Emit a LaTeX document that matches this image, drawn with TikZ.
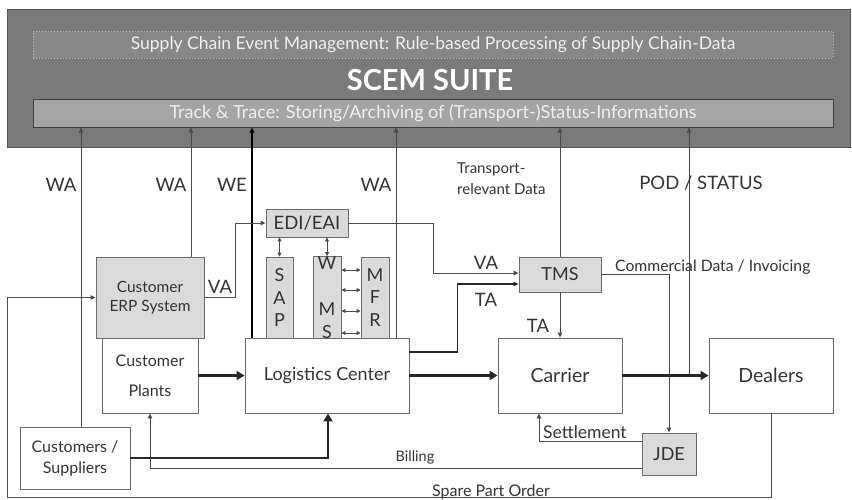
\documentclass[tikz,border=0pt]{standalone}
\usepackage{fontspec}
\setmainfont{Lato}
\usetikzlibrary{arrows.meta}
\definecolor{panelgray}{HTML}{7A7A7A}
\definecolor{panelline}{HTML}{555555}
\definecolor{trackfill}{HTML}{A4A4A4}
\definecolor{lightfill}{HTML}{DADADA}
\definecolor{boxline}{HTML}{6A6A6A}
\definecolor{linegray}{HTML}{4A4A4A}
\definecolor{txt}{HTML}{333333}
\definecolor{toptxt}{HTML}{F0F0F0}
\tikzset{
  box/.style={draw=boxline,line width=0.9pt,fill=white,text=txt,inner sep=0pt,align=center,font=\fontsize{18}{21}\selectfont},
  lbox/.style={box,fill=lightfill},
  sig/.style={draw=linegray,line width=0.9pt,-{Triangle[length=5pt,width=4.5pt]}},
  dsig/.style={draw=linegray,line width=0.9pt,{Triangle[length=4pt,width=4pt]}-{Triangle[length=4pt,width=4pt]}},
  flow/.style={draw=black!85,line width=2.6pt,-{Triangle[length=8pt,width=9pt]}},
  lab/.style={text=txt,inner sep=0pt,font=\fontsize{18.5}{21}\selectfont}
}
\begin{document}
\begin{tikzpicture}[x=1pt,y=-1pt]
\useasboundingbox (0,0) rectangle (852,499);
\filldraw[fill=panelgray,draw=panelline,line width=1pt] (7,9) rectangle (850,147);
\node[draw=black!25,dotted,line width=1pt,fill=panelgray!90!white,text=toptxt,minimum width=800,minimum height=27,inner sep=0pt,font=\fontsize{17.5}{19}\selectfont] (rules) at (433,44.5) {Supply Chain Event Management: Rule-based Processing of Supply Chain-Data};
\node[text=white,inner sep=0pt,font=\fontsize{29}{32}\selectfont\bfseries] (suite) at (430,80) {SCEM SUITE};
\node[draw=black!75,line width=1pt,fill=trackfill,text=toptxt,minimum width=800,minimum height=28,inner sep=0pt,font=\fontsize{18}{20}\selectfont] (track) at (433,113) {Track \& Trace: Storing/Archiving of (Transport-)Status-Informations};

\node[lbox,minimum width=108,minimum height=81,font=\fontsize{15.5}{19.5}\selectfont] (erp) at (150,297.5) {Customer\\ERP System};
\node[box,minimum width=96,minimum height=75,font=\fontsize{16}{30}\selectfont] (plants) at (150,375.5) {Customer\\Plants};
\node[box,minimum width=110,minimum height=62,font=\fontsize{16}{21}\selectfont] (cs) at (75,458) {Customers /\\Suppliers};
\node[lbox,minimum width=82,minimum height=28,font=\fontsize{18.5}{21}\selectfont] (edi) at (307,223) {EDI/EAI};
\node[lbox,minimum width=27,minimum height=81,font=\fontsize{18}{22.5}\selectfont] (sap) at (279.5,297.5) {S\\A\\P};
\node[lbox,minimum width=28,minimum height=81,font=\fontsize{18}{23}\selectfont] (wms) at (327,297.5) {W\\\strut\\M\\S};
\node[lbox,minimum width=28,minimum height=81,font=\fontsize{18}{22.5}\selectfont] (mfr) at (375,297.5) {M\\F\\R};
\node[box,minimum width=164,minimum height=75] (logc) at (327,375.5) {Logistics Center};
\node[box,minimum width=124,minimum height=75,font=\fontsize{19.5}{22}\selectfont] (carrier) at (560,375.5) {Carrier};
\node[box,minimum width=124,minimum height=75,font=\fontsize{19.5}{22}\selectfont] (dealers) at (771,375.5) {Dealers};
\node[lbox,minimum width=82,minimum height=35] (tms) at (560,274.5) {TMS};
\node[lbox,minimum width=54,minimum height=42] (jde) at (669,454) {JDE};

\coordinate (wa1) at (81,0);
\coordinate (wa2) at (191,0);
\coordinate (we) at (252,0);
\coordinate (wa3) at (396,0);
\coordinate (pod) at (689,377);
\coordinate (spare) at (7,497);

\draw[sig] (cs.north -| wa1) -- (track.south -| wa1);
\draw[sig] (erp.north -| wa2) -- (track.south -| wa2);
\draw[sig,draw=black,line width=1.2pt] (logc.north -| we) -- (track.south -| we);
\draw[sig] (logc.north -| wa3) -- (track.south -| wa3);
\draw[sig] (tms.north) -- (track.south -| tms.north);
\draw[sig] (pod) -- (track.south -| pod);

\draw[sig] (erp.east) -- ++(31,0) |- (edi.west);
\draw[sig] (edi.east) -- ++(85,0) |- ([yshift=1.5]tms.west);
\draw[sig,draw=black!85,line width=1.3pt] ([yshift=23.5]logc.east) -- ++(48,0) |- ([yshift=-9.5]tms.west);
\draw[sig] (tms.south) -- (carrier.north);
\draw[sig] (tms.east) -| (jde.north);
\draw[sig] ([yshift=13]jde.west) -| ([xshift=-21]carrier.south);
\draw[sig] ([yshift=-14]jde.west) -| (plants.south);
\draw[sig] (dealers.south) |- (spare) |- (erp.west);

\draw[dsig] (edi.south -| sap.north) -- (sap.north);
\draw[dsig] (edi.south -| wms.north) -- (wms.north);
\foreach \d in {27.5,7.5,-13.5,-35.5}
  \draw[dsig] ([yshift=\d]wms.east) -- ([yshift=\d]mfr.west);

\draw[flow] (plants.east) -- (logc.west);
\draw[flow] (logc.east) -- (carrier.west);
\draw[flow] (carrier.east) -- (dealers.west);
\draw[flow] (cs.east) -| ([xshift=1]logc.south);

\node[lab] (lwa1) at (61,185) {WA};
\node[lab] (lwa2) at (171,185) {WA};
\node[lab] (lwe) at (232,185) {WE};
\node[lab] (lwa3) at (376,185) {WA};
\node[lab,anchor=north west,align=left,font=\fontsize{15}{21}\selectfont] (ltrans) at (457,163) {Transport-\\relevant Data};
\node[lab] (lpod) at (701,183) {POD / STATUS};
\node[lab] (lva1) at (220,287) {VA};
\node[lab] (lva2) at (486,263) {VA};
\node[lab] (lta1) at (486,300) {TA};
\node[lab] (lta2) at (538,326) {TA};
\node[lab,anchor=base west,font=\fontsize{15.7}{18}\selectfont] (lcomm) at (615,271) {Commercial Data / Invoicing};
\node[lab,anchor=west,font=\fontsize{17.5}{20}\selectfont] (lsett) at (543,432) {Settlement};
\node[lab,font=\fontsize{14.5}{17}\selectfont] (lbill) at (415,457) {Billing};
\node[lab,font=\fontsize{16}{17}\selectfont] (lspare) at (491,492) {Spare Part Order};
\end{tikzpicture}
\end{document}
